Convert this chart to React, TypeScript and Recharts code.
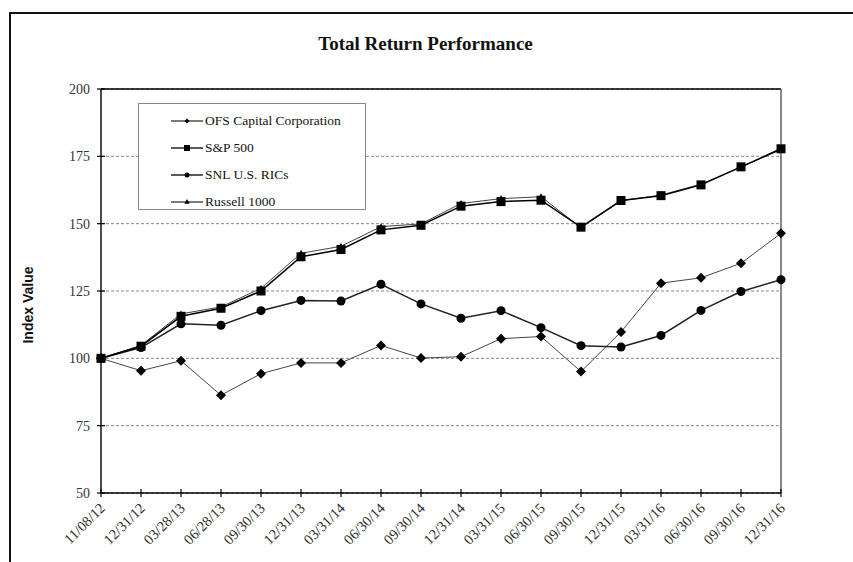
import { CartesianGrid, Legend, Line, LineChart, ReferenceLine, XAxis, YAxis } from "recharts";

const dates = [
  "11/08/12", "12/31/12", "03/28/13", "06/28/13", "09/30/13", "12/31/13",
  "03/31/14", "06/30/14", "09/30/14", "12/31/14", "03/31/15", "06/30/15",
  "09/30/15", "12/31/15", "03/31/16", "06/30/16", "09/30/16", "12/31/16",
];

const ofs = [100, 95.4, 99.1, 86.3, 94.3, 98.3, 98.3, 104.8, 100.1, 100.6, 107.3, 108.1, 95.1, 109.8, 127.9, 129.9, 135.3, 146.4];
const sp500 = [100, 104.5, 115.6, 118.6, 125.0, 137.7, 140.4, 147.7, 149.4, 156.5, 158.2, 158.7, 148.7, 158.6, 160.4, 164.4, 171.1, 177.8];
const snl = [100, 104.0, 112.8, 112.3, 117.7, 121.5, 121.3, 127.5, 120.2, 114.9, 117.7, 111.4, 104.7, 104.2, 108.5, 117.8, 124.8, 129.2];
const russell = [100, 104.8, 116.5, 119.1, 126.0, 139.0, 141.6, 148.9, 149.9, 157.5, 159.3, 160.0, 148.5, 158.5, 160.6, 164.7, 171.0, 177.5];

const yTicks = [50, 75, 100, 125, 150, 175, 200];

const chartData = dates.map((d, i) => ({
  date: d,
  ofs: ofs[i],
  sp500: sp500[i],
  snl: snl[i],
  russell: russell[i],
}));

const SERIF = '"Liberation Serif", "Times New Roman", serif';
const SANS = '"Liberation Sans", Arial, sans-serif';

type Kind = "diamond" | "square" | "circle" | "triangle";

function marker(kind: Kind, cx: number, cy: number, s: number, key?: string) {
  if (kind === "diamond") {
    return <polygon key={key} points={`${cx},${cy - s} ${cx + s},${cy} ${cx},${cy + s} ${cx - s},${cy}`} fill="#000" />;
  }
  if (kind === "square") {
    return <rect key={key} x={cx - s} y={cy - s} width={s * 2} height={s * 2} fill="#000" />;
  }
  if (kind === "circle") {
    return <circle key={key} cx={cx} cy={cy} r={s} fill="#000" />;
  }
  return <polygon key={key} points={`${cx},${cy - s} ${cx + s * 0.9},${cy + s * 0.6} ${cx - s * 0.9},${cy + s * 0.6}`} fill="#000" />;
}

const dotOf = (kind: Kind, s: number) => (props: any) => {
  const { cx, cy, index } = props;
  if (cx == null || cy == null) return <g key={`${kind}-${index}`} />;
  return marker(kind, cx, cy, s, `${kind}-${index}`);
};

const legendItems: { name: string; kind: Kind; size: number; color: string }[] = [
  { name: "OFS Capital Corporation", kind: "diamond", size: 2.5, color: "#333" },
  { name: "S&P 500", kind: "square", size: 3, color: "#000" },
  { name: "SNL U.S. RICs", kind: "circle", size: 2.5, color: "#000" },
  { name: "Russell 1000", kind: "triangle", size: 3, color: "#333" },
];

function LegendBox() {
  return (
    <div style={{ width: 228, height: 107, border: "1px solid #888", background: "#fff", boxSizing: "border-box", paddingTop: 3 }}>
      {legendItems.map((it) => (
        <div key={it.name} style={{ display: "flex", alignItems: "center", height: 27 }}>
          <svg width={62} height={12} style={{ marginLeft: 2 }}>
            <line x1={30} x2={62} y1={6} y2={6} stroke={it.color} strokeWidth={1.3} />
            {marker(it.kind, 46, 6, it.size)}
          </svg>
          <span style={{ fontFamily: SERIF, fontSize: 13.5, color: "#111", marginLeft: 2 }}>{it.name}</span>
        </div>
      ))}
    </div>
  );
}

const YTick = (props: any) => {
  const { x, y, payload } = props;
  const ax = x + 9;
  return (
    <g>
      <line x1={ax - 4} x2={ax + 4} y1={y} y2={y} stroke="#000" strokeWidth={1.2} />
      <text x={ax - 11} y={y} dy="0.35em" textAnchor="end" fontFamily={SERIF} fontSize={14} fill="#333">
        {payload.value}
      </text>
    </g>
  );
};

const XTick = (props: any) => {
  const { x, y, payload } = props;
  const ay = y - 6;
  const tx = x + 5;
  const ty = ay + 16;
  return (
    <g>
      <line x1={x} x2={x} y1={ay - 4} y2={ay + 4} stroke="#000" strokeWidth={1.2} />
      <text
        x={tx}
        y={ty}
        textAnchor="end"
        fontFamily={SERIF}
        fontSize={14.5}
        fill="#2a2a2a"
        transform={`rotate(-45, ${tx}, ${ty})`}
      >
        {payload.value}
      </text>
    </g>
  );
};

export default function App() {
  return (
    <div style={{ position: "absolute", left: 0, top: 0, width: 853, height: 562, background: "#fff", overflow: "hidden" }}>
      <div
        style={{
          position: "absolute",
          left: 9,
          top: 12,
          width: 900,
          height: 600,
          borderTop: "2px solid #111",
          borderLeft: "2px solid #111",
        }}
      />
      <div
        style={{
          position: "absolute",
          left: 0,
          top: 33,
          width: 853,
          textAlign: "center",
          fontFamily: SERIF,
          fontWeight: "bold",
          fontSize: 19,
          color: "#111",
        }}
      >
        <span style={{ marginLeft: -2 }}>Total Return Performance</span>
      </div>
      <div
        style={{
          position: "absolute",
          left: 20,
          top: 305,
          transform: "translate(-50%, -50%) rotate(-90deg)",
          transformOrigin: "center",
          fontFamily: SANS,
          fontWeight: "bold",
          fontSize: 14,
          color: "#111",
          whiteSpace: "nowrap",
          marginLeft: 8,
        }}
      >
        Index Value
      </div>
      <div style={{ position: "absolute", left: 0, top: 0 }}>
        <LineChart width={853} height={562} data={chartData} margin={{ top: 89, right: 72, left: 41, bottom: 9 }}>
          <CartesianGrid vertical={false} stroke="#888" strokeDasharray="3 2" />
          <XAxis
            dataKey="date"
            interval={0}
            height={60}
            tickSize={4}
            tickMargin={2}
            tickLine={false}
            axisLine={{ stroke: "#000", strokeWidth: 1.4 }}
            tick={<XTick />}
          />
          <YAxis
            domain={[50, 200]}
            ticks={yTicks}
            width={60}
            tickSize={4}
            tickMargin={5}
            tickLine={false}
            axisLine={{ stroke: "#000", strokeWidth: 1.4 }}
            tick={<YTick />}
          />
          <ReferenceLine y={200} stroke="#000" strokeWidth={1.4} />
          <ReferenceLine x="12/31/16" stroke="#555" strokeWidth={1.4} />
          <Legend
            layout="vertical"
            align="center"
            verticalAlign="middle"
            wrapperStyle={{ left: 138, top: 103, width: 228 }}
            content={<LegendBox />}
          />
          <Line
            dataKey="ofs"
            name="OFS Capital Corporation"
            stroke="#444"
            strokeWidth={1}
            dot={dotOf("diamond", 5)}
            isAnimationActive={false}
          />
          <Line
            dataKey="snl"
            name="SNL U.S. RICs"
            stroke="#222"
            strokeWidth={1.5}
            dot={dotOf("circle", 4.5)}
            isAnimationActive={false}
          />
          <Line
            dataKey="russell"
            name="Russell 1000"
            stroke="#444"
            strokeWidth={1}
            dot={dotOf("triangle", 3.5)}
            isAnimationActive={false}
          />
          <Line
            dataKey="sp500"
            name="S&P 500"
            stroke="#000"
            strokeWidth={1.5}
            dot={dotOf("square", 4.5)}
            isAnimationActive={false}
          />
        </LineChart>
      </div>
    </div>
  );
}
